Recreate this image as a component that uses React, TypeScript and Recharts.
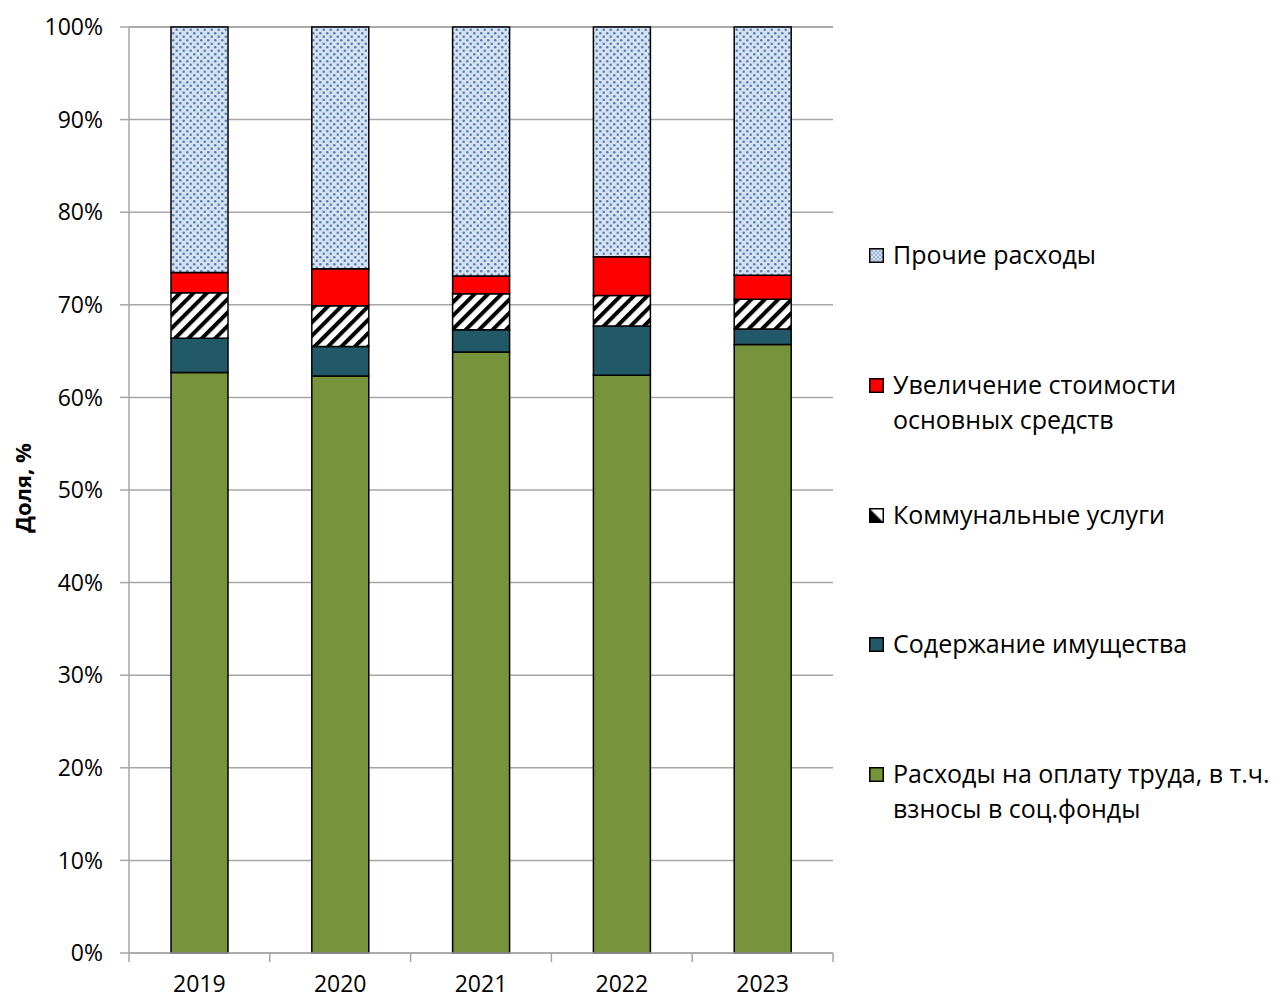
import React from 'react';
import { BarChart, Bar, XAxis, YAxis, CartesianGrid } from 'recharts';

const years = ['2019', '2020', '2021', '2022', '2023'];
const labor = [62.7, 62.3, 64.9, 62.4, 65.7];
const propertyUpkeep = [3.7, 3.2, 2.4, 5.3, 1.7];
const utilities = [4.9, 4.4, 3.9, 3.3, 3.2];
const fixedAssets = [2.2, 4.0, 1.9, 4.2, 2.6];
const other = [26.5, 26.1, 26.9, 24.8, 26.8];
const yTicks = [0, 10, 20, 30, 40, 50, 60, 70, 80, 90, 100];

const seriesNames = {
  other: 'Прочие расходы',
  fixedAssets: 'Увеличение стоимости основных средств',
  utilities: 'Коммунальные услуги',
  propertyUpkeep: 'Содержание имущества',
  labor: 'Расходы на оплату труда, в т.ч. взносы в соц.фонды',
};

const data = years.map((y, i) => ({
  year: y,
  labor: labor[i],
  propertyUpkeep: propertyUpkeep[i],
  utilities: utilities[i],
  fixedAssets: fixedAssets[i],
  other: other[i],
}));

const FONT = '"Open Sans", sans-serif';
const GREEN = '#77933c';
const TEAL = '#215968';
const RED = '#ff0000';
const GRID = '#a6a6a6';

const XTick = (props: any) => {
  const { x, y, payload, index } = props;
  const half = payload && payload.offset ? payload.offset : 70.4;
  const top = y - 8;
  return (
    <g>
      <line x1={x - half} y1={top} x2={x - half} y2={top + 9} stroke={GRID} strokeWidth={1.5} />
      {index === years.length - 1 && (
        <line x1={x + half} y1={top} x2={x + half} y2={top + 9} stroke={GRID} strokeWidth={1.5} />
      )}
      <text x={x} y={top + 39} textAnchor="middle" fontFamily={FONT} fontSize={23} fill="#000">
        {payload.value}
      </text>
    </g>
  );
};

const LegendIcon = ({ fill }: { fill: string }) => (
  <svg width={15} height={15} style={{ position: 'absolute', left: 0, top: 0 }}>
    <rect x={0.75} y={0.75} width={13.5} height={13.5} fill={fill} stroke="#000" strokeWidth={1.5} />
  </svg>
);

const legendItems = [
  { key: 'other', fill: 'url(#dotsLegend)', top: 237, lines: ['Прочие расходы'] },
  { key: 'fixedAssets', fill: RED, top: 367, lines: ['Увеличение стоимости', 'основных средств'] },
  { key: 'utilities', fill: 'url(#hatchLegend)', top: 497, lines: ['Коммунальные услуги'] },
  { key: 'propertyUpkeep', fill: TEAL, top: 626, lines: ['Содержание имущества'] },
  { key: 'labor', fill: GREEN, top: 756, lines: ['Расходы на оплату труда, в т.ч.', 'взносы в соц.фонды'] },
];

export default function App() {
  return (
    <div style={{ position: 'absolute', left: 0, top: 0, width: 1280, height: 998, background: '#fff', overflow: 'hidden' }}>
      <svg width={0} height={0} style={{ position: 'absolute' }}>
        <defs>
          <pattern id="dots" patternUnits="userSpaceOnUse" width={7} height={7}>
            <rect x={0} y={0} width={7} height={7} fill="#d6e1f0" />
            <circle cx={1.75} cy={1.75} r={1.25} fill="#4f7cba" />
            <circle cx={5.25} cy={5.25} r={1.25} fill="#4f7cba" />
          </pattern>
          <pattern id="dotsLegend" patternUnits="userSpaceOnUse" width={4} height={4}>
            <rect x={0} y={0} width={4} height={4} fill="#d6e1f0" />
            <circle cx={1} cy={1} r={0.8} fill="#4f7cba" />
            <circle cx={3} cy={3} r={0.8} fill="#4f7cba" />
          </pattern>
          <pattern id="hatch" patternUnits="userSpaceOnUse" width={9.5} height={9.5} patternTransform="rotate(45)">
            <rect x={0} y={0} width={9.5} height={9.5} fill="#fff" />
            <rect x={0} y={0} width={4} height={9.5} fill="#000" />
          </pattern>
          <linearGradient id="hatchLegend" x1="0" y1="1" x2="1" y2="0">
            <stop offset="0" stopColor="#000" />
            <stop offset="0.45" stopColor="#000" />
            <stop offset="0.55" stopColor="#fff" />
            <stop offset="1" stopColor="#fff" />
          </linearGradient>
        </defs>
      </svg>
      <BarChart
        width={1280}
        height={998}
        data={data}
        margin={{ top: 27, right: 447, bottom: 0, left: 49 }}
      >
        <CartesianGrid vertical={false} stroke={GRID} strokeWidth={1.5} />
        <XAxis
          dataKey="year"
          height={45}
          stroke={GRID}
          strokeWidth={1.5}
          tickLine={false}
          tick={<XTick />}
          interval={0}
        />
        <YAxis
          width={80}
          domain={[0, 100]}
          ticks={yTicks}
          interval={0}
          tickFormatter={(v: number) => `${v}%`}
          stroke={GRID}
          strokeWidth={1.5}
          tickSize={9}
          tickMargin={17}
          tick={{ fill: '#000', fontFamily: FONT, fontSize: 23 }}
        />
        <Bar dataKey="labor" name={seriesNames.labor} stackId="a" fill={GREEN} stroke="#000" strokeWidth={1.5} barSize={57} isAnimationActive={false} />
        <Bar dataKey="propertyUpkeep" name={seriesNames.propertyUpkeep} stackId="a" fill={TEAL} stroke="#000" strokeWidth={1.5} barSize={57} isAnimationActive={false} />
        <Bar dataKey="utilities" name={seriesNames.utilities} stackId="a" fill="url(#hatch)" stroke="#000" strokeWidth={1.5} barSize={57} isAnimationActive={false} />
        <Bar dataKey="fixedAssets" name={seriesNames.fixedAssets} stackId="a" fill={RED} stroke="#000" strokeWidth={1.5} barSize={57} isAnimationActive={false} />
        <Bar dataKey="other" name={seriesNames.other} stackId="a" fill="url(#dots)" stroke="#000" strokeWidth={1.5} barSize={57} isAnimationActive={false} />
      </BarChart>
      <div
        style={{
          position: 'absolute',
          left: 22,
          top: 488,
          transform: 'translate(-50%, -50%) rotate(-90deg)',
          fontFamily: FONT,
          fontSize: 22,
          fontWeight: 700,
          whiteSpace: 'nowrap',
          color: '#000',
        }}
      >
        Доля, %
      </div>
      {legendItems.map((it) => (
        <div
          key={it.key}
          style={{ position: 'absolute', left: 869, top: it.top, fontFamily: FONT, fontSize: 25, color: '#000' }}
        >
          <div style={{ position: 'absolute', left: 0, top: 11, width: 15, height: 15 }}>
            <LegendIcon fill={it.fill} />
          </div>
          <div style={{ position: 'absolute', left: 24, top: 0, lineHeight: '35px', whiteSpace: 'nowrap' }}>
            {it.lines.map((l, j) => (
              <div key={j}>{l}</div>
            ))}
          </div>
        </div>
      ))}
    </div>
  );
}
